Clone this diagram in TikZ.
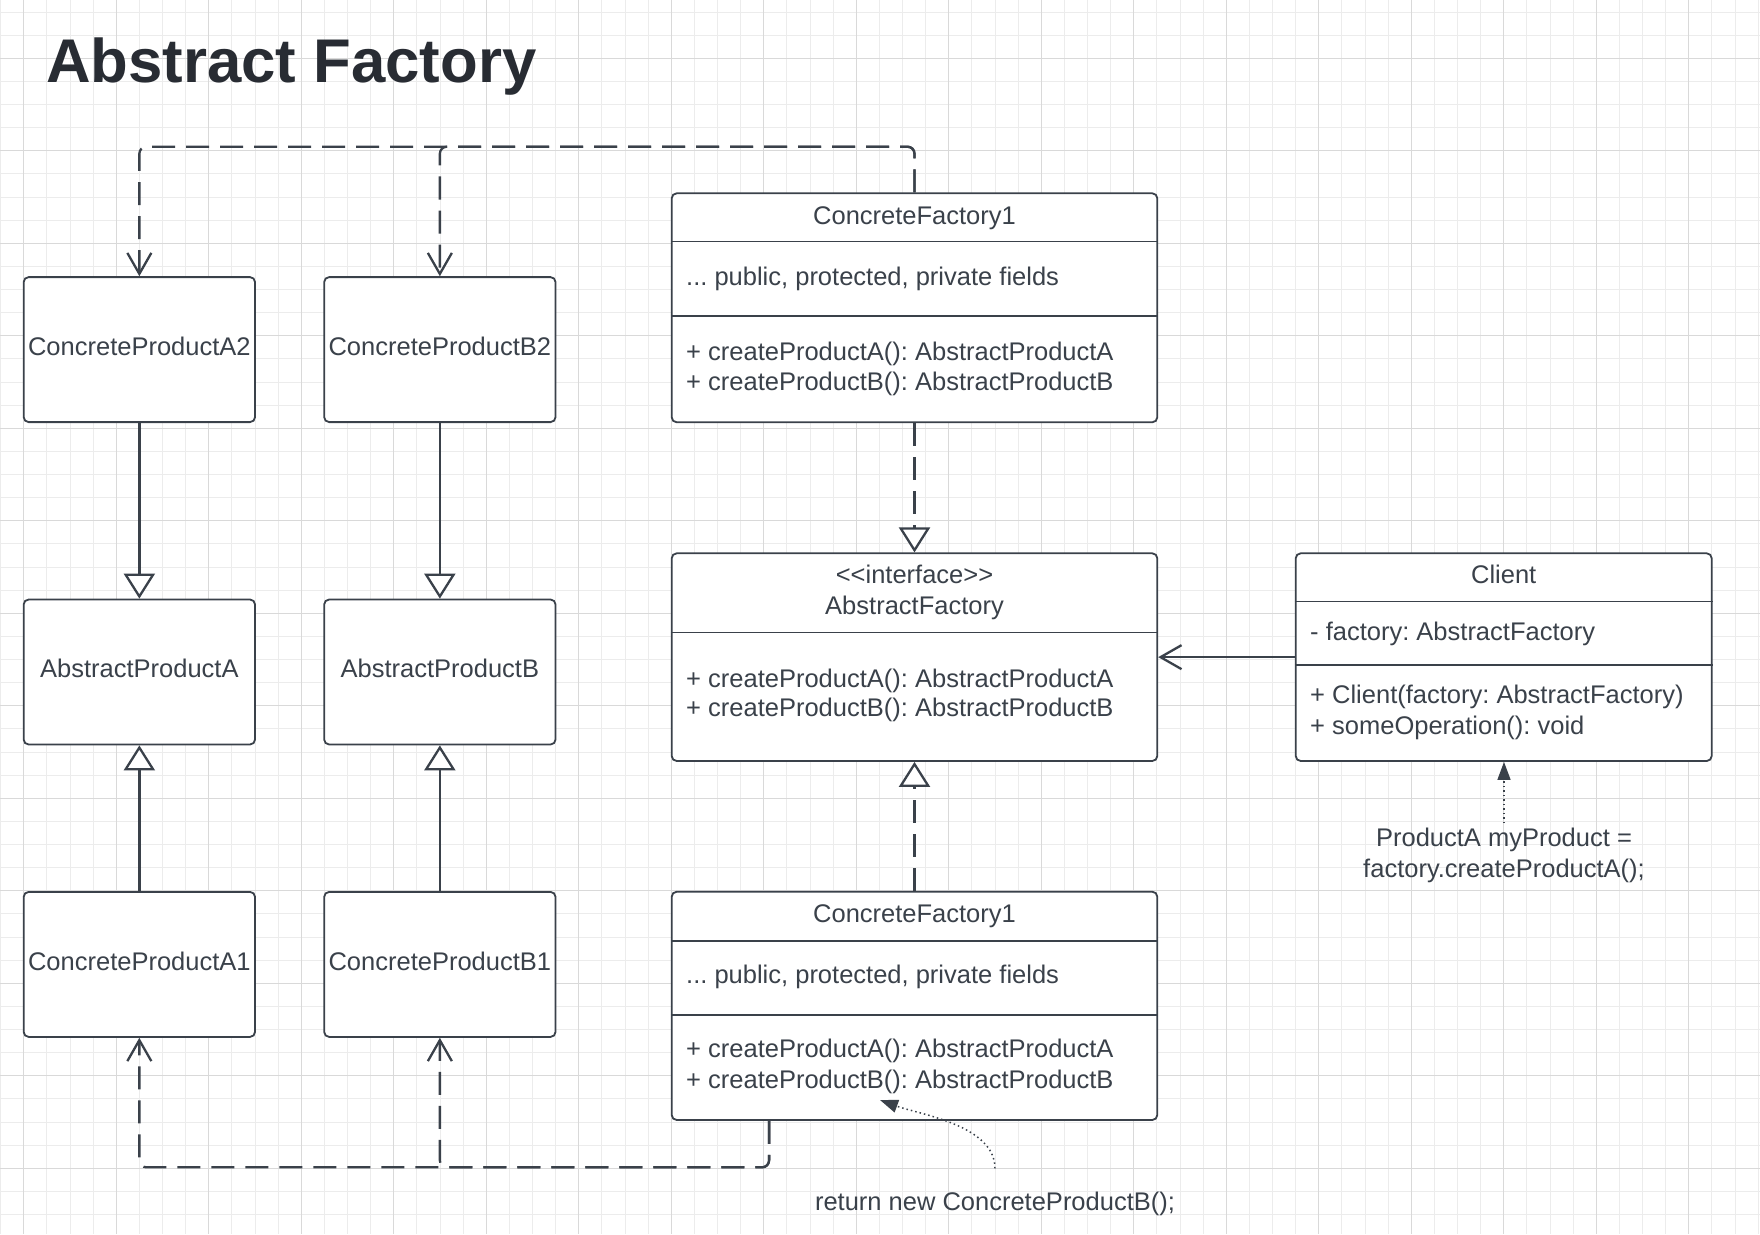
\documentclass[tikz,border=0pt]{standalone}
\usepackage{fontspec}
\setmainfont{Liberation Sans}
\usetikzlibrary{arrows.meta}
\frenchspacing
\definecolor{ln}{HTML}{3A414A}
\definecolor{tx}{HTML}{3A414A}
\definecolor{ttl}{HTML}{282C33}
\definecolor{gmin}{HTML}{ECECEC}
\definecolor{gmaj}{HTML}{D9D9D9}
\newcommand\bodyfont{\fontsize{25.5}{30}\selectfont}
\tikzset{
  box/.style={draw=ln, line width=1.8pt, fill=white, rounded corners=5pt, inner sep=0pt, text=tx, font=\bodyfont},
  prodbox/.style={box, minimum width=231.4pt, minimum height=145pt, text depth=7pt},
  classbox/.style={box, minimum width=485.6pt},
  sep/.style={draw=ln, line width=1.8pt},
  txt/.style={inner sep=0pt, text=tx, font=\bodyfont},
  conn/.style={draw=ln, line width=2.3pt},
  dsh/.style={conn, dash pattern=on 23pt off 11pt, rounded corners=7pt},
  gen/.style={-{Triangle[length=25pt,width=31pt,fill=white]}},
  dep/.style={-{Straight Barb[length=21pt,width=24pt]}},
  note/.style={draw=ln, line width=1.5pt, dash pattern=on 1.5pt off 3pt, -{Triangle[length=18pt,width=13pt]}}
}
\begin{document}
\begin{tikzpicture}[x=1pt,y=-1pt]
\useasboundingbox (0,0) rectangle (1760,1234);
\fill[white] (0,0) rectangle (1760,1234);
% grid
\foreach \i in {0,...,76} \draw[gmin, line width=1pt] ({0.675+23.125*\i},0) -- ++(0,1234);
\foreach \j in {0,...,53} \draw[gmin, line width=1pt] (0,{12.05+23.125*\j}) -- ++(1760,0);
\foreach \i in {0,...,18} \draw[gmaj, line width=1.2pt] ({23.8+92.5*\i},0) -- ++(0,1234);
\foreach \j in {0,...,12} \draw[gmaj, line width=1.2pt] (0,{58.3+92.5*\j}) -- ++(1760,0);

% title
\node[anchor=base west, inner sep=0pt, text=ttl, font=\fontsize{61.7}{72}\selectfont\bfseries] (title) at (46,82) {Abstract Factory};

% product boxes
\node[prodbox] (a2) at (139.35,349.6) {ConcreteProductA2};
\node[prodbox] (b2) at (439.85,349.6) {ConcreteProductB2};
\node[prodbox] (aa) at (139.35,672) {AbstractProductA};
\node[prodbox] (ab) at (439.85,672) {AbstractProductB};
\node[prodbox] (a1) at (139.35,964.4) {ConcreteProductA1};
\node[prodbox] (b1) at (439.85,964.4) {ConcreteProductB1};

% ConcreteFactory1 (top)
\node[classbox, minimum height=229pt] (cf1) at (914.5,307.8) {};
\draw[sep] ([yshift=-49pt]cf1.north west) -- ([yshift=-49pt]cf1.north east);
\draw[sep] ([yshift=-123.4pt]cf1.north west) -- ([yshift=-123.4pt]cf1.north east);
\node[txt, anchor=base] (cf1t) at (914.5,224) {ConcreteFactory1};
\node[txt, anchor=base west] (cf1f) at (686,285) {... public, protected, private fields};
\node[txt, anchor=base west] (cf1m1) at (686,360) {+ createProductA(): AbstractProductA};
\node[txt, anchor=base west] (cf1m2) at (686,390) {+ createProductB(): AbstractProductB};

% AbstractFactory
\node[classbox, minimum height=207.7pt] (af) at (914.5,657.15) {};
\draw[sep] ([yshift=-80pt]af.north west) -- ([yshift=-80pt]af.north east);
\node[txt, anchor=base] (aft1) at (914.5,583.3) {<\kern0pt<interface>\kern0pt>};
\node[txt, anchor=base] (aft2) at (914.5,614) {AbstractFactory};
\node[txt, anchor=base west] (afm1) at (686,687.3) {+ createProductA(): AbstractProductA};
\node[txt, anchor=base west] (afm2) at (686,716.7) {+ createProductB(): AbstractProductB};

% ConcreteFactory1 (bottom)
\node[classbox, minimum height=228.3pt] (cf1b) at (914.5,1005.85) {};
\draw[sep] ([yshift=-50pt]cf1b.north west) -- ([yshift=-50pt]cf1b.north east);
\draw[sep] ([yshift=-124pt]cf1b.north west) -- ([yshift=-124pt]cf1b.north east);
\node[txt, anchor=base] (cf1bt) at (914.5,922.4) {ConcreteFactory1};
\node[txt, anchor=base west] (cf1bf) at (686,983.3) {... public, protected, private fields};
\node[txt, anchor=base west] (cf1bm1) at (686,1057.5) {+ createProductA(): AbstractProductA};
\node[txt, anchor=base west] (cf1bm2) at (686,1088) {+ createProductB(): AbstractProductB};

% Client
\node[box, minimum width=416pt, minimum height=207.7pt] (client) at (1503.7,657.15) {};
\draw[sep] ([yshift=-49pt]client.north west) -- ([yshift=-49pt]client.north east);
\draw[sep] ([yshift=-112.7pt]client.north west) -- ([yshift=-112.7pt]client.north east);
\node[txt, anchor=base] (clt) at (1503.7,583.3) {Client};
\node[txt, anchor=base west] (clf) at (1310,640) {- factory: AbstractFactory};
\node[txt, anchor=base west] (clm1) at (1310,703.3) {+ Client(factory: AbstractFactory)};
\node[txt, anchor=base west] (clm2) at (1310,734) {+ someOperation(): void};

% notes
\node[txt, anchor=base] (annA1) at (1504,846.7) {ProductA myProduct =};
\node[txt, anchor=base] (annA2) at (1504,877.3) {factory.createProductA();};
\node[txt, anchor=base] (ret) at (995,1210) {return new ConcreteProductB();};

% generalization (solid)
\draw[conn, gen] (a2.south) -- (aa.north);
\draw[conn, gen] (b2.south) -- (ab.north);
\draw[conn, gen] (a1.north) -- (aa.south);
\draw[conn, gen] (b1.north) -- (ab.south);

% realization (dashed)
\draw[dsh, gen] (cf1.south) -- (af.north);
\draw[dsh, gen] (cf1b.north) -- (af.south);

% association
\draw[conn, dep] (client.west) -- (af.east);

% dependencies from top factory
\coordinate (topbus) at (0,146.7);
\draw[dsh, dep] (cf1.north) -- (cf1.north |- topbus) -| (a2.north);
\draw[dsh, dep] (cf1.north) -- (cf1.north |- topbus) -| (b2.north);

% dependencies from bottom factory
\coordinate (cfbout) at ([xshift=98.3pt]cf1b.south west);
\coordinate (botbus) at (0,1167.3);
\draw[dsh, dep] (cfbout) -- (cfbout |- botbus) -| (a1.south);
\draw[dsh, dep] (cfbout) -- (cfbout |- botbus) -| (b1.south);

% note arrows
\draw[note] ([yshift=5pt]annA1.north) -- (annA1.north |- client.south);
\coordinate (retB) at (880,1100);
\draw[note] ([yshift=23pt]ret.north) .. controls (995,1125) and (918,1114) .. (retB);
\end{tikzpicture}
\end{document}
